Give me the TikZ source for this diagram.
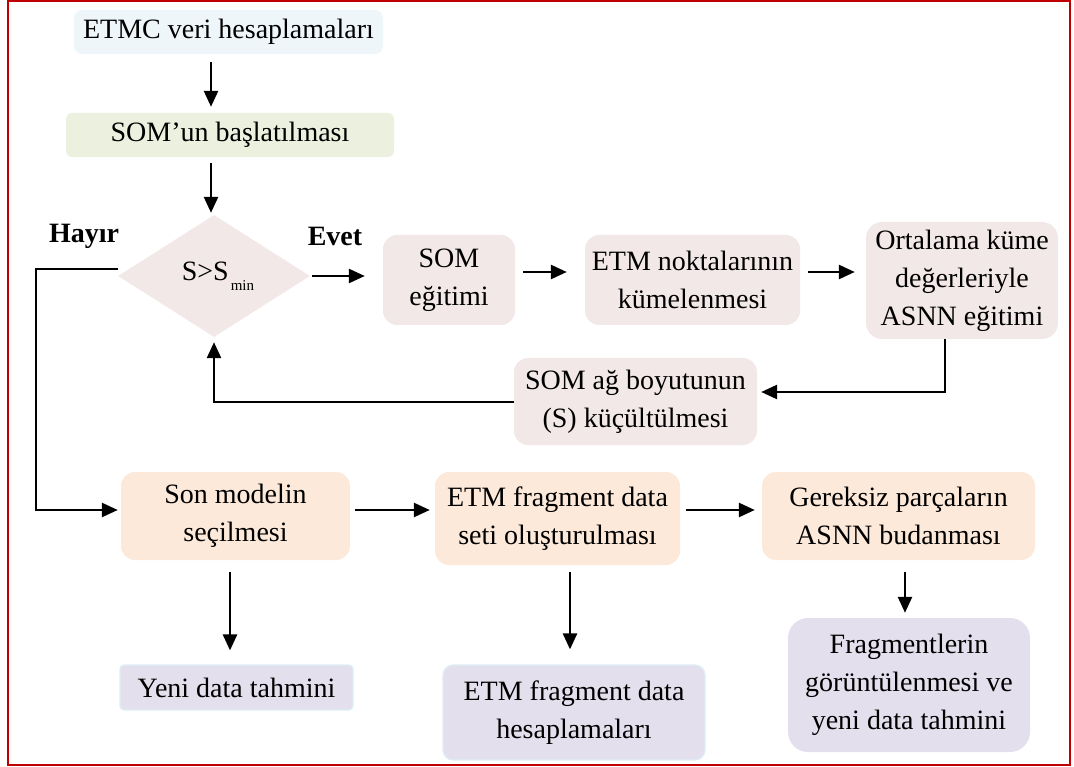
\documentclass[tikz,border=0pt]{standalone}
\usepackage{fontspec}
\setmainfont{Liberation Serif}
\usetikzlibrary{arrows.meta,shapes.geometric,calc}
\definecolor{bblue}{RGB}{238,246,250}
\definecolor{bgreen}{RGB}{235,241,222}
\definecolor{bpink}{RGB}{243,232,232}
\definecolor{borange}{RGB}{253,233,217}
\definecolor{bpurple}{RGB}{228,223,236}
\definecolor{bedge}{RGB}{222,238,245}
\definecolor{frame}{RGB}{192,0,0}
\tikzset{
  box/.style={rounded corners=#1, inner sep=0pt, align=center, font=\fontsize{28}{38}\selectfont},
  box/.default=12pt,
  conn/.style={line width=2.6pt, -{Triangle[length=16pt,width=14pt]}},
  lbl/.style={font=\fontsize{28}{34}\selectfont\bfseries}
}
\begin{document}
\begin{tikzpicture}[x=1pt,y=-1pt]
\useasboundingbox (0,0) rectangle (1074,767);
\draw[frame, line width=1.5pt] (8,1) rectangle (1070,765);

% top column
\node[box=8pt, fill=bblue, minimum width=309pt, minimum height=44pt] (etmc) at (228.5,32) {ETMC veri hesaplamaları};
\node[box=6pt, fill=bgreen, minimum width=328pt, minimum height=44pt] (somb) at (230,135) {SOM’un başlatılması};
\node[diamond, fill=bpink, inner sep=0pt, minimum width=192pt, minimum height=122pt, font=\fontsize{28}{34}\selectfont] (dia) at (214,276)
  {\hspace*{8pt}S>S\kern2pt\raisebox{-10pt}{\fontsize{15}{15}\selectfont min}};
\node[lbl] (hayir) at (84,236) {Hayır};
\node[lbl] (evet) at (335,236) {Evet};

% loop row
\node[box=14pt, fill=bpink, minimum width=132pt, minimum height=90pt] (som) at (449,280) {SOM\\eğitimi};
\node[box=14pt, fill=bpink, minimum width=215pt, minimum height=90pt] (etmn) at (692.5,280) {ETM noktalarının\\kümelenmesi};
\node[box=16pt, fill=bpink, minimum width=192pt, minimum height=117pt] (ort) at (962,280.5) {Ortalama küme\\değerleriyle\\ASNN eğitimi};
\node[box=14pt, fill=bpink, minimum width=243pt, minimum height=87pt] (red) at (635.5,401.5) {SOM ağ boyutunun\\(S) küçültülmesi};

% bottom rows
\node[box=14pt, fill=borange, minimum width=229pt, minimum height=88pt] (son) at (235.5,516) {Son modelin\\seçilmesi};
\node[box=14pt, fill=borange, minimum width=245pt, minimum height=93pt] (frag) at (557.5,518.5) {ETM fragment data\\seti oluşturulması};
\node[box=14pt, fill=borange, minimum width=273pt, minimum height=88pt] (ger) at (898.5,516) {Gereksiz parçaların\\ASNN budanması};
\node[box=4pt, fill=bpurple, draw=bedge, line width=1.2pt, minimum width=233pt, minimum height=45pt] (yeni) at (236.5,687.5) {Yeni data tahmini};
\node[box=10pt, fill=bpurple, draw=bedge, line width=1.2pt, minimum width=262pt, minimum height=95pt] (hes) at (574,712.5) {ETM fragment data\\hesaplamaları};
\node[box=20pt, fill=bpurple, minimum width=242pt, minimum height=134pt] (fr2) at (909,685) {Fragmentlerin\\görüntülenmesi ve\\yeni data tahmini};

% helper coordinates
\coordinate (c1) at (211,0);
\coordinate (c2) at (945,0);
\coordinate (c3) at (230,0);
\coordinate (c4) at (570,0);
\coordinate (c5) at (905,0);
\coordinate (r1) at (0,276);
\coordinate (r2) at (0,272);
\coordinate (r3) at (0,510);
\coordinate (r4) at (0,392);
\coordinate (r5) at (0,402);
\coordinate (hl) at (36,269);

% connectors
\draw[conn, shorten <=8pt, shorten >=6pt] (etmc.south -| c1) -- (somb.north -| c1);
\draw[conn, shorten <=6pt, shorten >=2pt] (somb.south -| c1) -- (dia.north -| c1);
\draw[conn, shorten <=2pt, shorten >=18pt] (dia.east) -- (som.west |- r1);
\draw[conn, shorten <=8pt, shorten >=18pt] (som.east |- r2) -- (etmn.west |- r2);
\draw[conn, shorten <=8pt, shorten >=11pt] (etmn.east |- r2) -- (ort.west |- r2);
\draw[conn, shorten >=4pt] (ort.south -| c2) |- (red.east |- r4);
\draw[conn, shorten >=5pt] (red.west |- r5) -| (dia.south);
\draw[conn, shorten >=3pt] (dia.west |- hl) -- (hl) |- (son.west |- r3);
\draw[conn, shorten <=5pt, shorten >=5pt] (son.east |- r3) -- (frag.west |- r3);
\draw[conn, shorten <=6pt, shorten >=7pt] (frag.east |- r3) -- (ger.west |- r3);
\draw[conn, shorten <=12pt, shorten >=14pt] (son.south -| c3) -- (yeni.north -| c3);
\draw[conn, shorten <=7pt, shorten >=15pt] (frag.south -| c4) -- (hes.north -| c4);
\draw[conn, shorten <=12pt, shorten >=5pt] (ger.south -| c5) -- (fr2.north -| c5);
\end{tikzpicture}
\end{document}
